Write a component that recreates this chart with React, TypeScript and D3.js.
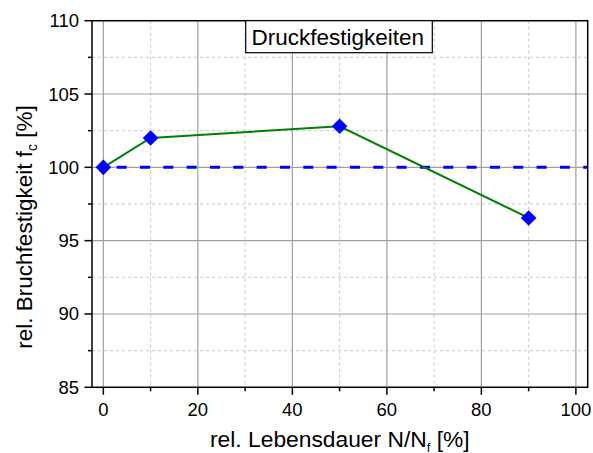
import React from "react";
import * as d3 from "d3";

const lifeFraction = [0, 10, 50, 90];
const strength = [100, 102.0, 102.8, 96.55];
const referenceLevel = 100;
const xMajorTicks = [0, 20, 40, 60, 80, 100];
const xMinorTicks = [10, 30, 50, 70, 90];
const yMajorTicks = [85, 90, 95, 100, 105, 110];
const yMinorTicks = [87.5, 92.5, 97.5, 102.5, 107.5];
const legendLabel = "Druckfestigkeiten";

const W = 593;
const H = 453;
const FONT = "'Liberation Sans', Arial, Helvetica, sans-serif";

export default function App() {
  const left = 92;
  const right = 587.7;
  const top = 20.7;
  const bottom = 387.3;
  const x = d3.scaleLinear().domain([-2.4, 102.5]).range([left, right]);
  const y = d3.scaleLinear().domain([85, 110]).range([bottom, top]);
  const pts = lifeFraction.map((v, i) => [x(v), y(strength[i])] as [number, number]);
  const line = d3.line()(pts) || "";
  const diamond = (cx: number, cy: number, r: number) =>
    `M${cx},${cy - r}L${cx + r},${cy}L${cx},${cy + r}L${cx - r},${cy}Z`;

  return (
    <svg width={W} height={H} style={{ position: "absolute", left: 0, top: 0, background: "#fff" }} fontFamily={FONT}>
      <rect x={0} y={0} width={W} height={H} fill="#fff" />
      {xMinorTicks.map((t) => (
        <line key={"xm" + t} x1={x(t)} x2={x(t)} y1={top} y2={bottom} stroke="#c8c8c8" strokeWidth={1} strokeDasharray="3,3" />
      ))}
      {yMinorTicks.map((t) => (
        <line key={"ym" + t} x1={left} x2={right} y1={y(t)} y2={y(t)} stroke="#c8c8c8" strokeWidth={1} strokeDasharray="3,3" />
      ))}
      {xMajorTicks.map((t) => (
        <line key={"xg" + t} x1={x(t)} x2={x(t)} y1={top} y2={bottom} stroke="#a0a0a0" strokeWidth={1.2} />
      ))}
      {yMajorTicks.map((t) => (
        <line key={"yg" + t} x1={left} x2={right} y1={y(t)} y2={y(t)} stroke="#a0a0a0" strokeWidth={1.2} />
      ))}
      <line x1={x(0)} x2={right} y1={y(referenceLevel)} y2={y(referenceLevel)} stroke="#0000ff" strokeWidth={3} strokeDasharray="10,13.33" strokeDashoffset={10} />
      <path d={line} fill="none" stroke="#008000" strokeWidth={2} />
      {pts.map(([px, py], i) => (
        <path key={"d" + i} d={diamond(px, py, 7.8)} fill="#0000ff" />
      ))}
      <rect x={left} y={top} width={right - left} height={bottom - top} fill="none" stroke="#000" strokeWidth={1.5} />
      {xMajorTicks.map((t) => (
        <g key={"xt" + t}>
          <line x1={x(t)} x2={x(t)} y1={bottom} y2={bottom + 7.5} stroke="#000" strokeWidth={1.5} />
          <text x={x(t)} y={416} textAnchor="middle" fontSize={18.5} fill="#000">{t}</text>
        </g>
      ))}
      {xMinorTicks.map((t) => (
        <line key={"xmt" + t} x1={x(t)} x2={x(t)} y1={bottom} y2={bottom + 4} stroke="#000" strokeWidth={1.5} />
      ))}
      {yMajorTicks.map((t) => (
        <g key={"yt" + t}>
          <line x1={left - 7.5} x2={left} y1={y(t)} y2={y(t)} stroke="#000" strokeWidth={1.5} />
          <text x={79} y={y(t) + 6.5} textAnchor="end" fontSize={18.5} fill="#000">{t}</text>
        </g>
      ))}
      {yMinorTicks.map((t) => (
        <line key={"ymt" + t} x1={left - 4} x2={left} y1={y(t)} y2={y(t)} stroke="#000" strokeWidth={1.5} />
      ))}
      <rect x={245.7} y={top} width={186.6} height={32} fill="#fff" stroke="#000" strokeWidth={1.2} />
      <text x={251.5} y={45} fontSize={22.5} fill="#000">{legendLabel}</text>
      <text x={(left + right) / 2} y={446.5} textAnchor="middle" fontSize={22.8} fill="#000">
        rel. Lebensdauer N/N<tspan fontSize={13} dy={5}>f</tspan><tspan dy={-5}> [%]</tspan>
      </text>
      <text transform={`translate(32,${227}) rotate(-90)`} textAnchor="middle" fontSize={22.5} fill="#000">
        rel. Bruchfestigkeit f<tspan fontSize={14} dy={5}>c</tspan><tspan dy={-5}> [%]</tspan>
      </text>
    </svg>
  );
}
